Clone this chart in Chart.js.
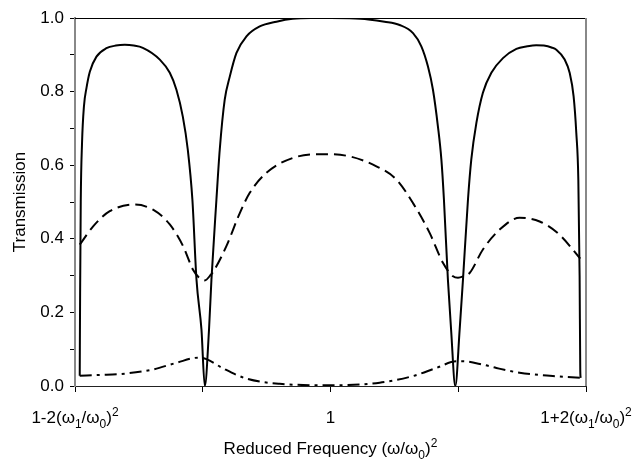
<!DOCTYPE html>
<html>
<head>
<meta charset="utf-8">
<script src="https://cdn.jsdelivr.net/npm/chart.js@4/dist/chart.umd.min.js"></script>
<style>
  html, body { margin: 0; padding: 0; background: #fff; }
  #wrap { width: 636px; height: 461px; position: relative; }
</style>
</head>
<body>
<div id="wrap"><canvas id="chart"></canvas></div>
<script>
// reduced frequency, in units of (w1/w0)^2 away from 1
const solidX = [-1.963, -1.960, -1.955, -1.945, -1.930, -1.910, -1.884, -1.832, -1.754, -1.680, -1.610, -1.540, -1.469, -1.336, -1.258, -1.206, -1.156, -1.117, -1.081, -1.049, -1.010, -0.984, -0.951, -0.932, -0.893, -0.867, -0.828, -0.789, -0.736, -0.658, -0.554, -0.423, -0.296, -0.150, 0, 0.150, 0.296, 0.423, 0.541, 0.646, 0.711, 0.763, 0.802, 0.841, 0.868, 0.888, 0.919, 0.944, 0.977, 1.011, 1.037, 1.076, 1.102, 1.142, 1.193, 1.259, 1.350, 1.455, 1.540, 1.610, 1.670, 1.730, 1.768, 1.833, 1.872, 1.903, 1.924, 1.940, 1.950, 1.955, 1.958];
const solidT = [0.028, 0.250, 0.500, 0.660, 0.760, 0.810, 0.854, 0.895, 0.918, 0.925, 0.927, 0.925, 0.919, 0.887, 0.851, 0.805, 0.732, 0.642, 0.506, 0.289, 0.153, 0.000, 0.153, 0.289, 0.506, 0.642, 0.778, 0.840, 0.905, 0.950, 0.977, 0.990, 0.998, 1.000, 1.000, 0.999, 0.996, 0.990, 0.981, 0.959, 0.923, 0.868, 0.805, 0.705, 0.615, 0.506, 0.289, 0.153, 0.000, 0.153, 0.289, 0.506, 0.615, 0.715, 0.797, 0.851, 0.891, 0.916, 0.923, 0.926, 0.925, 0.920, 0.914, 0.887, 0.851, 0.787, 0.688, 0.560, 0.300, 0.045, 0.022];

const dashX = [-1.963, -1.858, -1.728, -1.532, -1.389, -1.258, -1.154, -1.076, -1.030, -0.984, -0.935, -0.919, -0.815, -0.710, -0.632, -0.502, -0.293, -0.059, 0.150, 0.359, 0.516, 0.646, 0.776, 0.880, 0.959, 0.998, 1.040, 1.089, 1.193, 1.324, 1.480, 1.637, 1.793, 1.955];
const dashT = [0.384, 0.434, 0.475, 0.493, 0.479, 0.439, 0.380, 0.316, 0.295, 0.287, 0.303, 0.310, 0.380, 0.470, 0.525, 0.579, 0.620, 0.630, 0.624, 0.597, 0.561, 0.497, 0.416, 0.335, 0.298, 0.294, 0.298, 0.307, 0.371, 0.425, 0.457, 0.447, 0.411, 0.346];

const dotX = [-1.963, -1.800, -1.600, -1.389, -1.206, -1.037, -0.971, -0.841, -0.658, -0.397, 0, 0.385, 0.646, 0.829, 0.985, 1.037, 1.193, 1.298, 1.480, 1.741, 1.958];
const dotT = [0.028, 0.030, 0.034, 0.045, 0.063, 0.077, 0.073, 0.048, 0.020, 0.006, 0.002, 0.009, 0.027, 0.049, 0.067, 0.067, 0.058, 0.049, 0.036, 0.027, 0.022];

const xTickValues = [-2, -1, 0, 1, 2];
const xTickLabels = ['1-2(ω_1/ω_0)^2', '', '1', '', '1+2(ω_1/ω_0)^2'];
const xTitle = 'Reduced Frequency (ω/ω_0)^2';
const yTitle = 'Transmission';

const FONT = "'Liberation Sans', Arial, Helvetica, sans-serif";
const FS = 17;

// split "a_b^c" into normal / sub / sup runs
function runs(s) {
  const out = [];
  for (let i = 0; i < s.length; i++) {
    const c = s[i];
    if ((c === '_' || c === '^') && i + 1 < s.length) {
      out.push({ t: s[i + 1], k: c === '_' ? 'sub' : 'sup' });
      i++;
    } else if (out.length && out[out.length - 1].k === 'n') {
      out[out.length - 1].t += c;
    } else {
      out.push({ t: c, k: 'n' });
    }
  }
  return out;
}

function drawRich(ctx, s, cx, cy) {
  const parts = runs(s);
  const small = Math.round(FS * 0.7);
  let w = 0;
  parts.forEach(p => {
    ctx.font = (p.k === 'n' ? FS : small) + 'px ' + FONT;
    p.w = ctx.measureText(p.t).width;
    w += p.w;
  });
  let x = cx - w / 2;
  const base = cy + FS * 0.36;
  ctx.textAlign = 'left';
  ctx.textBaseline = 'alphabetic';
  parts.forEach(p => {
    ctx.font = (p.k === 'n' ? FS : small) + 'px ' + FONT;
    let y = base;
    if (p.k === 'sub') y += FS * 0.28;
    if (p.k === 'sup') y -= FS * 0.42;
    ctx.fillText(p.t, x, y);
    x += p.w;
  });
}

const pts = (xs, ys) => xs.map((x, i) => ({ x: x, y: ys[i] }));

const frame = {
  id: 'frame',
  afterDatasetsDraw(chart) {
    const { ctx, chartArea: a } = chart;
    ctx.save();
    ctx.strokeStyle = '#000';
    ctx.lineWidth = 1;
    ctx.beginPath();
    ctx.moveTo(a.left, a.top + 0.5);
    ctx.lineTo(a.right, a.top + 0.5);
    ctx.stroke();
    ctx.strokeStyle = '#888';
    ctx.lineWidth = 2;
    ctx.beginPath();
    ctx.moveTo(a.right, a.top);
    ctx.lineTo(a.right, a.bottom);
    ctx.stroke();
    ctx.restore();
  },
  afterDraw(chart) {
    const { ctx, chartArea: a } = chart;
    const xs = chart.scales.x;
    ctx.save();
    ctx.fillStyle = '#000';
    xTickValues.forEach((v, i) => {
      if (xTickLabels[i]) drawRich(ctx, xTickLabels[i], xs.getPixelForValue(v), 417);
    });
    drawRich(ctx, xTitle, (a.left + a.right) / 2, 448);
    ctx.translate(20, (a.top + a.bottom) / 2);
    ctx.rotate(-Math.PI / 2);
    ctx.font = FS + 'px ' + FONT;
    ctx.textAlign = 'center';
    ctx.textBaseline = 'middle';
    ctx.fillText(yTitle, 0, 0);
    ctx.restore();
  }
};

const common = {
  showLine: true,
  pointRadius: 0,
  borderColor: '#000',
  borderWidth: 2,
  fill: false,
  cubicInterpolationMode: 'monotone'
};

new Chart(document.getElementById('chart'), {
  type: 'scatter',
  data: {
    datasets: [
      Object.assign({ data: pts(solidX, solidT) }, common),
      Object.assign({ data: pts(dashX, dashT), borderDash: [12, 6] }, common),
      Object.assign({ data: pts(dotX, dotT), borderDash: [12, 5, 3, 5] }, common)
    ]
  },
  options: {
    responsive: true,
    maintainAspectRatio: false,
    animation: false,
    layout: { padding: { left: 0, top: 18, right: 50, bottom: 0 } },
    plugins: { legend: { display: false }, tooltip: { enabled: false }, title: { display: false } },
    scales: {
      x: {
        type: 'linear',
        min: -2,
        max: 2,
        ticks: { stepSize: 1, display: false },
        grid: { drawOnChartArea: false, drawTicks: true, tickLength: 6, color: '#000' },
        border: { color: '#222', width: 1 },
        afterFit(scale) { scale.height = 75; }
      },
      y: {
        min: 0,
        max: 1,
        ticks: {
          stepSize: 0.1,
          color: '#000',
          padding: 6,
          font: { family: FONT, size: FS },
          callback: v => (Math.round(v * 10) % 2 === 0 ? v.toFixed(1) : '')
        },
        grid: { drawOnChartArea: false, drawTicks: true, tickLength: 5, color: '#000' },
        border: { color: '#888', width: 2 },
        afterFit(scale) { scale.width = 75; }
      }
    }
  },
  plugins: [frame]
});
</script>
</body>
</html>
